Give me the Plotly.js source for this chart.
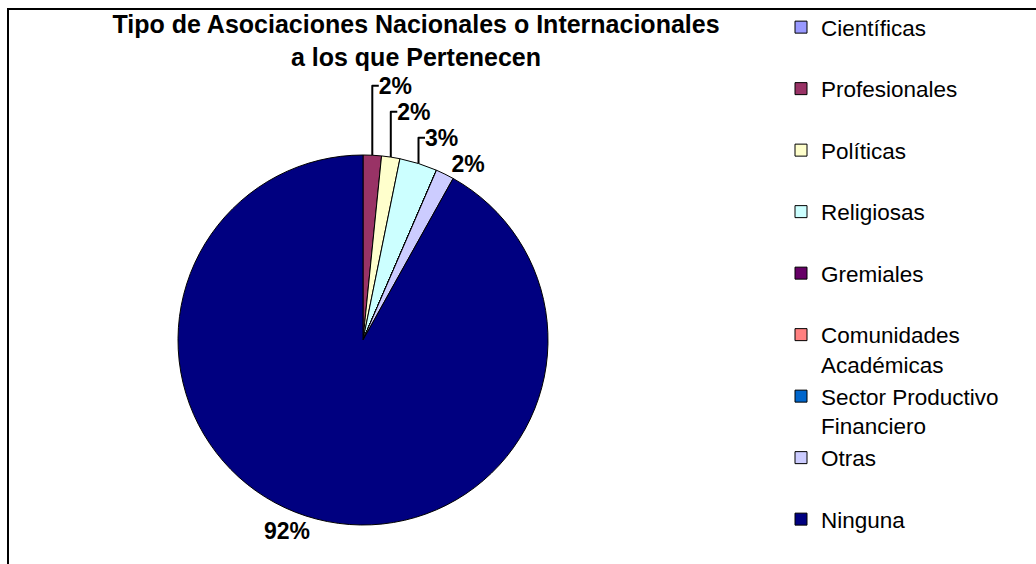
<!DOCTYPE html>
<html>
<head>
<meta charset="utf-8">
<script src="https://cdn.plot.ly/plotly-3.0.1.min.js"></script>
<style>
  html, body { margin: 0; padding: 0; background: #fff; overflow: hidden; }
  #chart { width: 1036px; height: 564px; }
  #frame { position: absolute; left: 7px; top: 8px; width: 3000px; height: 3000px;
           border-top: 2px solid #000; border-left: 2px solid #000; pointer-events: none; }
</style>
</head>
<body>
<div id="chart"></div>
<div id="frame"></div>
<script>
// Data (percent of respondents)
const categories = ["Científicas", "Profesionales", "Políticas", "Religiosas", "Gremiales",
                    "Comunidades<br>Académicas", "Sector Productivo<br>Financiero", "Otras", "Ninguna"];
const values = [0, 1.6, 1.6, 3.3, 0, 0, 0, 1.6, 91.9];
const colors = ["#9999FF", "#993366", "#FFFFCC", "#CCFFFF", "#660066",
                "#FF8080", "#0066CC", "#CCCCFF", "#000080"];
const titleText = "Tipo de Asociaciones Nacionales o Internacionales<br>a los que Pertenecen";

const W = 1036, H = 564;
const total = values.reduce((a, b) => a + b, 0);
// single-line legend entries (except the last) get an empty second line so entries are evenly spaced
const legendLabels = categories.map((c, i) =>
  (c.indexOf("<br>") >= 0 || i === categories.length - 1) ? c : c + "<br> ");
const sliceText = values.map(v => v > 0 ? Math.round(v / total * 100) + "%" : "");

const trace = {
  type: "pie",
  labels: legendLabels,
  values: values,
  text: sliceText,
  textinfo: "text",
  textposition: "outside",
  sort: false,
  direction: "clockwise",
  rotation: 0,
  marker: { colors: colors, line: { color: "#000", width: 1 } },
  outsidetextfont: { family: "Arial, 'Liberation Sans', sans-serif", size: 23, color: "#000", weight: "bold" },
  domain: { x: [178 / W, 548 / W], y: [1 - 525 / H, 1 - 155 / H] },
  hoverinfo: "label+percent"
};

const layout = {
  width: W, height: H,
  margin: { l: 0, r: 0, t: 0, b: 0 },
  paper_bgcolor: "#fff",
  showlegend: true,
  title: {
    text: titleText,
    font: { family: "Arial, 'Liberation Sans', sans-serif", size: 25, color: "#000", weight: "bold" },
    x: 416 / W, xanchor: "center",
    y: 1 - 33 / H, yanchor: "top", yref: "container"
  },
  legend: {
    x: 781 / W, xanchor: "left",
    y: 1 - 6 / H, yanchor: "top",
    font: { family: "Arial, 'Liberation Sans', sans-serif", size: 22.5, color: "#000" },
    valign: "top",
    traceorder: "normal",
    bgcolor: "rgba(0,0,0,0)"
  }
};

Plotly.newPlot("chart", [trace], layout, { displayModeBar: false, staticPlot: true });
</script>
</body>
</html>
